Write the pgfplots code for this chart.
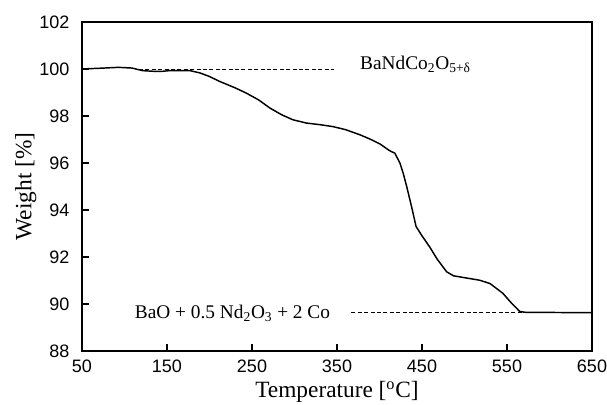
\documentclass[border=0pt]{standalone}
\usepackage{fontspec}
\setmainfont{Liberation Serif}
\setsansfont{Liberation Sans}
\usepackage{pgfplots}
\pgfplotsset{compat=1.18}

\begin{document}
\begin{tikzpicture}
\begin{axis}[
  name=ax,
  scale only axis,
  width=382.5pt, height=246.75pt,
  xmin=50, xmax=650, ymin=88, ymax=102,
  xtick={50,150,...,650},
  ytick={88,90,...,102},
  tick align=inside,
  xtick pos=left, ytick pos=left,
  major tick length=5pt,
  axis line style={line width=1.1pt},
  tick style={line width=0.9pt, color=black},
  /pgf/number format/assume math mode=true,
  ticklabel style={font=\sffamily\fontsize{13.5}{16}\selectfont},
  yticklabel style={xshift=-6pt},
  xticklabel style={yshift=-3pt},
  xlabel={Temperature [\textsuperscript{o}C]},
  ylabel={Weight [\%]},
  label style={font=\fontsize{17.5}{20}\selectfont},
  xlabel style={at={([yshift=-35pt]axis description cs:0.5,0)}, anchor=base},
  ylabel style={at={([xshift=-38pt]axis description cs:0,0.5)}, anchor=base},
]
% reference levels
\addplot[black, line width=0.6pt, dash pattern=on 3pt off 1.8pt] coordinates {(117,100.0) (347,100.0)};
\addplot[black, line width=0.6pt, dash pattern=on 3pt off 1.8pt] coordinates {(367,89.66) (650,89.66)};
% TGA curve
\addplot[black, line width=1.1pt] coordinates {
  (50,100.00) (70,100.03) (93,100.07) (109,100.04) (121,99.93) (135,99.90)
  (144,99.90) (153,99.93) (177,99.93) (189,99.83) (200,99.68) (212,99.47)
  (230,99.20) (243,98.98) (258,98.68) (271,98.34) (285,98.05) (298,97.84)
  (314,97.70) (330,97.63) (345,97.55) (360,97.42) (377,97.20) (390,97.00)
  (401,96.80) (412,96.52) (418,96.42) (424,96.00) (428,95.55) (432,95.00)
  (438,94.10) (443,93.30) (450,92.90) (459,92.43) (468,91.90) (479,91.37)
  (487,91.20) (500,91.12) (518,91.01) (530,90.87) (545,90.46) (555,90.05)
  (565,89.68) (573,89.64) (600,89.64) (650,89.63)
};
\node[anchor=base west, inner sep=0, font=\fontsize{14.5}{17}\selectfont]
  at (axis cs:377,99.96) {BaNdCo\textsubscript{2}O\textsubscript{5+δ}};
\node[anchor=base west, inner sep=0, font=\fontsize{14.5}{17}\selectfont]
  at (axis cs:112,89.38) {BaO + 0.5 Nd\textsubscript{2}O\textsubscript{3} + 2 Co};
\end{axis}
\pgfresetboundingbox
\path[use as bounding box] ([xshift=-61.5pt,yshift=-40.5pt]ax.south west) rectangle ([xshift=11.25pt,yshift=16.5pt]ax.north east);
\end{tikzpicture}
\end{document}
